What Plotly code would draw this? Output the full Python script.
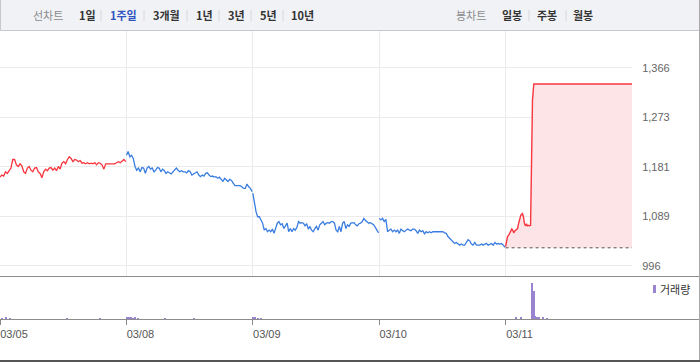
import numpy as np
import plotly.graph_objects as go

# ---------------- data ----------------
dates = ["03/05", "03/08", "03/09", "03/10", "03/11"]
y_tick_vals = [996, 1088.5, 1181, 1273.5, 1366]
y_tick_text = ["996", "1,089", "1,181", "1,273", "1,366"]

day1 = [1162, 1166, 1164, 1172, 1169, 1175, 1179, 1195, 1195, 1185, 1182, 1187, 1183, 1172, 1169,
        1179, 1182, 1175, 1172, 1179, 1180, 1172, 1169, 1161, 1172, 1177, 1174, 1179, 1180, 1175,
        1179, 1174, 1182, 1177, 1188, 1191, 1187, 1195, 1200, 1197, 1191, 1195, 1194, 1191, 1193,
        1188, 1189, 1187, 1189, 1187, 1188, 1187, 1189, 1185, 1189, 1188, 1185, 1177, 1187, 1187,
        1187, 1187, 1188, 1187, 1189, 1191, 1189, 1193, 1195, 1191]
day2 = [1203, 1210, 1200, 1203, 1197, 1182, 1175, 1179, 1172, 1180, 1179, 1169, 1179, 1182, 1177,
        1179, 1172, 1175, 1180, 1179, 1172, 1177, 1174, 1169, 1172, 1170, 1168, 1172, 1175, 1179,
        1175, 1172, 1174, 1172, 1172, 1170, 1174, 1172, 1166, 1168, 1169, 1172, 1166, 1163, 1166,
        1164, 1169, 1170, 1166, 1163, 1164, 1162, 1163, 1160, 1162, 1158, 1154, 1160, 1157, 1154,
        1158, 1156, 1151, 1146, 1146, 1146, 1146, 1144, 1141, 1141, 1149, 1144, 1141, 1135]
day3 = [1132, 1113, 1097, 1088, 1088, 1082, 1076, 1063, 1066, 1060, 1063, 1060, 1065, 1057, 1066,
        1076, 1079, 1073, 1075, 1066, 1071, 1076, 1060, 1066, 1060, 1066, 1063, 1068, 1079, 1076,
        1077, 1076, 1071, 1075, 1065, 1070, 1063, 1060, 1066, 1070, 1063, 1073, 1076, 1079, 1073,
        1076, 1077, 1076, 1079, 1079, 1076, 1063, 1060, 1070, 1060, 1076, 1079, 1066, 1073, 1070,
        1076, 1077, 1077, 1073, 1071, 1075, 1076, 1079, 1085, 1081, 1079, 1076, 1077, 1075, 1073,
        1068, 1063, 1058]
day4 = [1085, 1082, 1085, 1079, 1083, 1060, 1063, 1065, 1060, 1063, 1060, 1063, 1057, 1065, 1062,
        1060, 1063, 1065, 1063, 1062, 1065, 1065, 1062, 1057, 1063, 1060, 1062, 1056, 1060, 1058,
        1060, 1058, 1060, 1060, 1060, 1060, 1060, 1060, 1060, 1058, 1057, 1051, 1048, 1045, 1042,
        1038, 1040, 1037, 1035, 1037, 1035, 1035, 1040, 1045, 1043, 1037, 1035, 1040, 1035, 1035,
        1035, 1037, 1035, 1037, 1038, 1035, 1037, 1038, 1035, 1040, 1037, 1038, 1037, 1038, 1035,
        1031]
day5_minutes = [0, 3, 6, 10, 15, 19, 22, 25, 29, 33, 37, 39, 43, 47, 52, 55, 58, 61, 64, 67, 70,
                74, 77, 80, 83, 87, 390]
day5 = [1032, 1042, 1051, 1054, 1060, 1065, 1063, 1058, 1062, 1065, 1066, 1073, 1082, 1091, 1094,
        1088, 1076, 1071, 1075, 1071, 1072, 1071, 1072, 1194, 1306, 1336, 1336]
day5_prev_close = 1030

vol_day = [0, 0, 0, 0, 0, 1, 1, 1, 1, 1, 1, 1, 1, 2, 2, 2, 2, 4, 4, 4, 4, 4, 4, 4, 4, 4]
vol_min = [6, 19, 31, 207, 309, 2, 8, 14, 20, 27, 36, 119, 209, 1, 7, 16, 25,
           31, 48, 81, 87, 92, 96, 102, 114, 127]
vol_qty = [100e3, 150e3, 100e3, 80e3, 80e3, 150e3, 120e3, 150e3, 100e3, 120e3, 80e3, 80e3, 80e3,
           150e3, 120e3, 100e3, 100e3,
           200e3, 200e3, 3600e3, 2800e3, 300e3, 200e3, 120e3, 250e3, 100e3]

SESSION = 390  # minutes per trading day

# ---------------- style ----------------
W, H = 700, 362
RED = "#f7363f"
BLUE = "#3a7de0"
PINK = "#fde4e7"
VOL = "#9a84d0"
GRID = "#ebebeb"

def px(x):
    return x / W

def py(y):
    return 1 - y / H

fig = go.Figure()

intraday = [day1, day2, day3, day4]
colors = [RED, BLUE, BLUE, BLUE]
for d, (vals, col) in enumerate(zip(intraday, colors)):
    mins = np.linspace(0, SESSION - 2, len(vals))
    fig.add_trace(go.Scatter(x=d + mins / SESSION, y=vals, mode="lines",
                             line=dict(color=col, width=1.3), xaxis="x2", yaxis="y",
                             hoverinfo="skip", showlegend=False))

# previous-close baseline for the last day (dotted) + filled price
fig.add_trace(go.Scatter(x=[4, 5], y=[day5_prev_close, day5_prev_close], mode="lines",
                         line=dict(color="#555555", width=1, dash="dot"),
                         xaxis="x2", yaxis="y", hoverinfo="skip", showlegend=False))
fig.add_trace(go.Scatter(x=4 + np.array(day5_minutes) / SESSION, y=day5, mode="lines",
                         line=dict(color=RED, width=1.4), fill="tonexty", fillcolor=PINK,
                         xaxis="x2", yaxis="y", hoverinfo="skip", showlegend=False))

# volume
fig.add_trace(go.Bar(x=np.array(vol_day) + np.array(vol_min) / SESSION, y=vol_qty,
                     width=1.0 / 126.4, marker=dict(color=VOL, line=dict(width=0)),
                     xaxis="x", yaxis="y2", hoverinfo="skip", showlegend=False))

xdom = [0, 632 / W]
fig.update_layout(
    width=W, height=H, margin=dict(l=0, r=0, t=0, b=0),
    paper_bgcolor="white", plot_bgcolor="white",
    bargap=0,
    xaxis=dict(domain=xdom, range=[0, 5], anchor="y2", tickvals=[0, 1, 2, 3, 4], ticktext=dates,
               ticks="outside", ticklen=5, tickcolor="#888888", tickwidth=1,
               showgrid=False, zeroline=False, showline=False,
               tickfont=dict(family="Liberation Sans", size=11, color="#555555"),
               ticklabelshift=14),
    xaxis2=dict(domain=xdom, range=[0, 5], anchor="y", matches="x", tickvals=[0, 1, 2, 3, 4],
                showticklabels=False, showgrid=True, gridcolor=GRID, gridwidth=1,
                zeroline=False, showline=False, ticks=""),
    yaxis=dict(domain=[py(276), py(31)], range=[977.3, 1435.1], side="right", anchor="x2",
               tickvals=y_tick_vals, ticktext=y_tick_text, showgrid=True, gridcolor=GRID,
               gridwidth=1, zeroline=False, showline=False, ticks="outside", ticklen=7,
               tickcolor="rgba(0,0,0,0)",
               tickfont=dict(family="Liberation Sans", size=11, color="#666666")),
    yaxis2=dict(domain=[py(319), py(277)], range=[0, 4.2e6], anchor="x",
                showticklabels=False, showgrid=False, zeroline=False, showline=False, ticks=""),
)

shapes = []
# top bar
shapes.append(dict(type="rect", xref="paper", yref="paper", x0=px(0.5), x1=px(699.5),
                   y0=py(30.5), y1=py(-2), fillcolor="#f1f2f6",
                   line=dict(color="#c8c8cc", width=1), layer="below"))
for sx in [101, 144, 187, 219, 251, 283, 529, 566]:
    shapes.append(dict(type="line", xref="paper", yref="paper", x0=px(sx), x1=px(sx),
                       y0=py(10), y1=py(21), line=dict(color="#d8d8dc", width=1)))
# panel separators
for sy in [276.5, 319.5]:
    shapes.append(dict(type="line", xref="paper", yref="paper", x0=0, x1=px(699.5),
                       y0=py(sy), y1=py(sy), line=dict(color="#8c8c8c", width=1)))
# right border
shapes.append(dict(type="line", xref="paper", yref="paper", x0=px(699.5), x1=px(699.5),
                   y0=py(0), y1=py(361), line=dict(color="#a8a8a8", width=1)))
# bottom dark line
shapes.append(dict(type="line", xref="paper", yref="paper", x0=0, x1=1,
                   y0=py(361), y1=py(361), line=dict(color="#555555", width=2)))
# legend marker
shapes.append(dict(type="rect", xref="paper", yref="paper", x0=px(653), x1=px(656),
                   y0=py(293), y1=py(285), fillcolor=VOL, line=dict(width=0)))
fig.update_layout(shapes=shapes)

KFONT = "Noto Sans CJK KR"
ann = []
def label(x, text, color="#333333", bold=True, y=15):
    ann.append(dict(xref="paper", yref="paper", x=px(x), y=py(y), xanchor="center",
                    yanchor="middle", showarrow=False,
                    text=f"<b>{text}</b>" if bold else text,
                    font=dict(family=KFONT, size=11, color=color)))

label(48, "선차트", color="#8a8a8a", bold=False)
label(87, "1일")
label(124, "1주일", color="#2f54c0")
label(166, "3개월")
label(204, "1년")
label(236, "3년")
label(268, "5년")
label(302, "10년")
label(471, "봉차트", color="#8a8a8a", bold=False)
label(512, "일봉")
label(547, "주봉")
label(583, "월봉")
ann.append(dict(xref="paper", yref="paper", x=px(658), y=py(289), xanchor="left",
                yanchor="middle", showarrow=False, text="거래량",
                font=dict(family=KFONT, size=11, color="#333333")))
fig.update_layout(annotations=ann)

fig.write_html("out.html")
